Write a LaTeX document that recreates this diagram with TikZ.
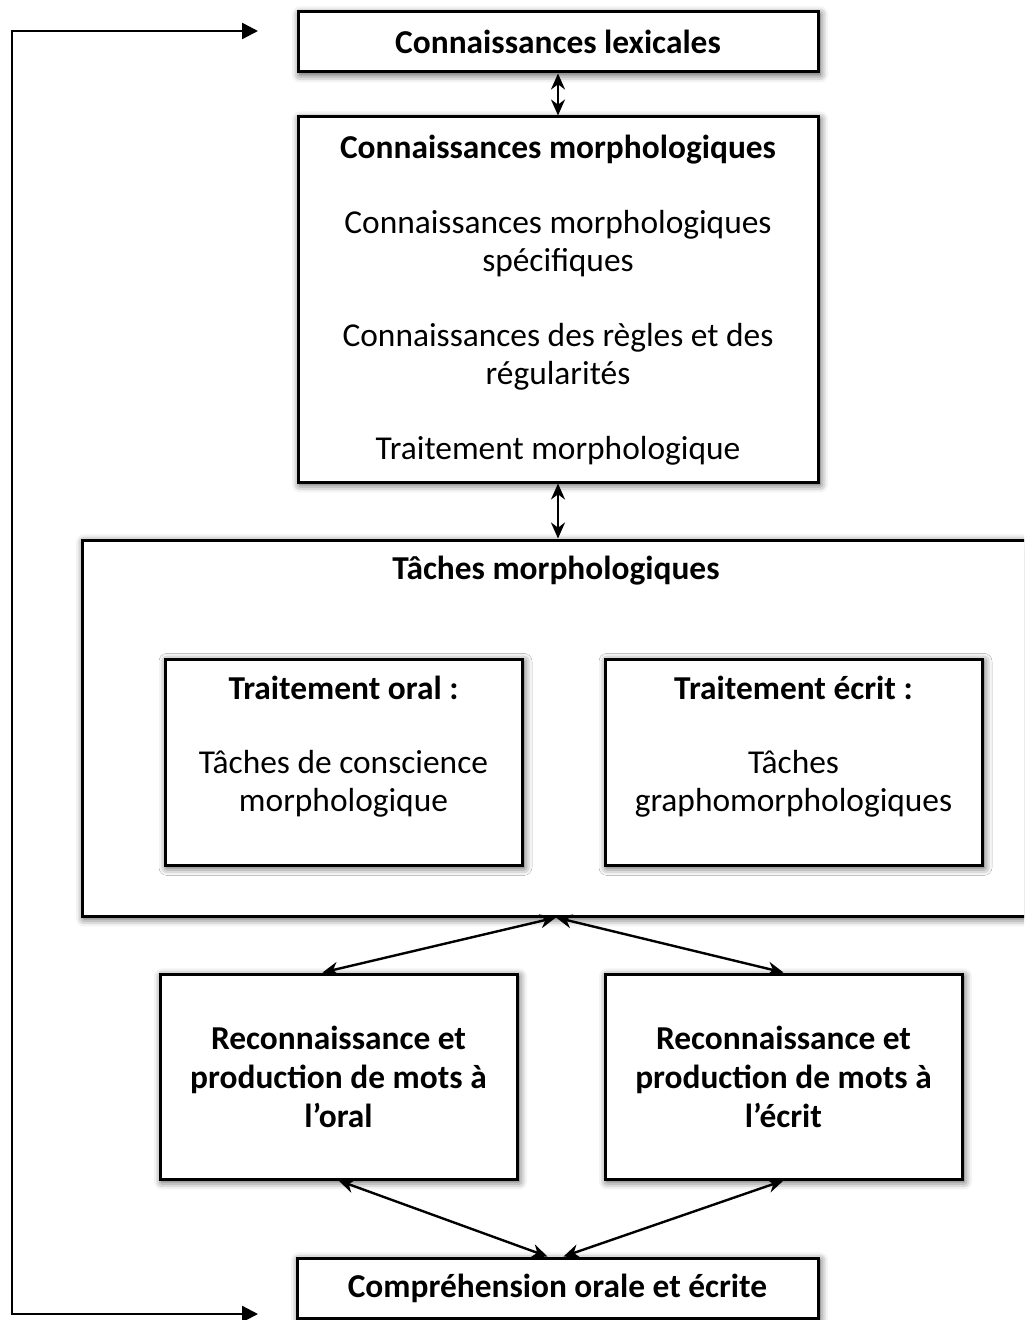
\documentclass[tikz,border=0pt]{standalone}
\usepackage{fontspec}
\setmainfont{Carlito}
\usetikzlibrary{arrows.meta,positioning,shadows.blur}

\begin{document}
\begin{tikzpicture}[x=0.5pt,y=-0.5pt,>={Stealth[length=8pt,width=7pt]},
                    box/.style={draw,line width=1.5pt,fill=white,inner sep=0pt,
                      align=center,font=\fontsize{16.7}{19.5}\selectfont,
                      blur shadow={shadow xshift=1pt,shadow yshift=-1.2pt,
                        shadow blur radius=4pt,shadow opacity=75}},
                    txt/.style={align=center,inner sep=0pt,font=\fontsize{16.7}{19}\selectfont},
                    link/.style={<->,line width=1.2pt}]
  \useasboundingbox (0,0) rectangle (1024,1320);
  \clip (0,0) rectangle (1024,1320);

  % boxes
  \node[box,minimum width=260pt,minimum height=30pt] (lex) at (558,42)
    {\textbf{Connaissances lexicales}};
  \node[box,minimum width=260pt,minimum height=182.5pt] (morph) at (558,299.5) {};
  \node[box,minimum width=474pt,minimum height=188pt] (taches) at (556,728) {};
  \node[box,minimum width=178.5pt,minimum height=103pt] (oral) at (343.5,762) {};
  \node[box,minimum width=188.5pt,minimum height=103pt] (ecrit) at (793.5,762) {};
  \node[box,minimum width=178.5pt,minimum height=102.5pt] (recoO) at (338.5,1076.5)
    {\textbf{Reconnaissance et}\\ \textbf{production de mots à}\\ \textbf{l’oral}};
  \node[box,minimum width=178.5pt,minimum height=102.5pt] (recoE) at (783.5,1076.5)
    {\textbf{Reconnaissance et}\\ \textbf{production de mots à}\\ \textbf{l’écrit}};
  \node[box,minimum width=260.5pt,minimum height=30pt] (comp) at (557.5,1288)
    {\textbf{Compréhension orale et écrite}};

  % texts
  \node[txt,below=9.5pt of morph.north] (morphT)
    {\textbf{Connaissances morphologiques}\\[18.5pt]
     Connaissances morphologiques\\ spécifiques\\[18.5pt]
     Connaissances des règles et des\\ régularités\\[18.5pt]
     Traitement morphologique};
  \node[txt,below=8.5pt of taches.north] (tachesT) {\textbf{Tâches morphologiques}};
  \node[txt,below=9pt of oral.north] (oralT)
    {\textbf{Traitement oral :}\\[18pt] Tâches de conscience\\ morphologique};
  \node[txt,below=9pt of ecrit.north] (ecritT)
    {\textbf{Traitement écrit :}\\[18pt] Tâches\\ graphomorphologiques};

  % arrows
  \path[link] (lex) edge (morph)
    (morph) edge (morph.south |- taches.north)
    (taches.south) edge ([xshift=-8pt]recoO.north)
    (taches.south) edge (recoE.north)
    (recoO.south) edge ([xshift=-5pt]comp.north)
    (recoE.south) edge ([xshift=3pt]comp.north);

  \coordinate (lexIn) at (258,31);
  \coordinate (compIn) at (258,1314);
  \coordinate (cornerT) at (12,31);
  \coordinate (cornerB) at (12,1314);
  \draw[line width=1.2pt,{Triangle[length=8pt,width=8pt]}-{Triangle[length=8pt,width=8pt]}]
    (compIn) -- (cornerB) -- (cornerT) -- (lexIn);
\end{tikzpicture}
\end{document}
